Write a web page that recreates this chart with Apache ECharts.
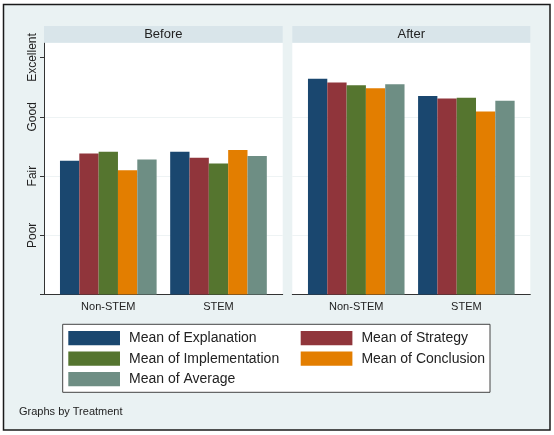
<!DOCTYPE html>
<html>
<head>
<meta charset="utf-8">
<script src="https://cdn.jsdelivr.net/npm/echarts@6/dist/echarts.min.js"></script>
<style>
html,body{margin:0;padding:0;background:#fff;}
#chart{width:554px;height:435px;}
</style>
</head>
<body>
<div id="chart"></div>
<script>
// ---- data ----
const panels = ['Before', 'After'];
const categories = ['Non-STEM', 'STEM'];
const seriesNames = ['Mean of Explanation', 'Mean of Strategy', 'Mean of Implementation', 'Mean of Conclusion', 'Mean of Average'];
const yTickLabels = ['', 'Poor', 'Fair', 'Good', 'Excellent'];
const explanationBefore = [2.26, 2.41];
const strategyBefore = [2.38, 2.31];
const implementationBefore = [2.41, 2.21];
const conclusionBefore = [2.10, 2.44];
const averageBefore = [2.28, 2.34];
const explanationAfter = [3.64, 3.35];
const strategyAfter = [3.58, 3.31];
const implementationAfter = [3.53, 3.32];
const conclusionAfter = [3.48, 3.09];
const averageAfter = [3.55, 3.27];
const footnote = 'Graphs by Treatment';

// ---- style ----
const colors = ['#1a476f', '#90353b', '#55752f', '#e37e00', '#6e8e84'];
const FONT = '"Liberation Sans", Arial, sans-serif';
const BG = '#eaf2f3';
const STRIP = '#d9e5ea';
const AXIS = '#333';
const TXT = '#222';
const YMAX = 4.25;
const TOP = 42.7, BOTTOM = 140.4;

const beforeData = [explanationBefore, strategyBefore, implementationBefore, conclusionBefore, averageBefore];
const afterData = [explanationAfter, strategyAfter, implementationAfter, conclusionAfter, averageAfter];

const panelBg = [{left: 44, width: 238.7}, {left: 292.3, width: 238}];
const barGrid = [{left: 53.2, width: 220.4}, {left: 301.2, width: 220.2}];

const grids = [];
const xAxes = [];
const yAxes = [];
panelBg.forEach((p, i) => {
  grids.push({left: p.left, width: p.width, top: TOP, bottom: BOTTOM, show: true, backgroundColor: '#fff', borderWidth: 0});
  xAxes.push({type: 'category', gridIndex: i, data: [''], axisLine: {show: true, lineStyle: {color: AXIS, width: 1}}, axisTick: {show: false}, axisLabel: {show: false}});
  yAxes.push({
    type: 'value', gridIndex: i, min: 0, max: YMAX, interval: 1,
    axisLine: {show: i === 0, lineStyle: {color: AXIS, width: 1}},
    axisTick: {show: i === 0, length: 4, lineStyle: {color: AXIS}, customValues: [0, 1, 2, 3, 4]},
    axisLabel: {
      show: i === 0, rotate: 90, margin: 5.5, fontSize: 12, color: TXT, fontFamily: FONT,
      customValues: [1, 2, 3, 4],
      formatter: v => (Number.isInteger(v) ? (yTickLabels[v] || '') : '')
    },
    splitLine: {show: true, showMaxLine: false, lineStyle: {color: '#eef3f4', width: 1}}
  });
});
barGrid.forEach((g, i) => {
  grids.push({left: g.left, width: g.width, top: TOP, bottom: BOTTOM});
  xAxes.push({type: 'category', gridIndex: 2 + i, data: categories, axisLine: {show: false}, axisTick: {show: false},
    axisLabel: {margin: 7, fontSize: 11, color: TXT, fontFamily: FONT}});
  yAxes.push({type: 'value', gridIndex: 2 + i, min: 0, max: YMAX, interval: 1, show: false, splitLine: {show: false}});
});

const series = [];
[beforeData, afterData].forEach((set, pi) => {
  set.forEach((vals, si) => {
    series.push({
      name: seriesNames[si], type: 'bar', xAxisIndex: 2 + pi, yAxisIndex: 2 + pi,
      data: vals, barGap: '0%', barCategoryGap: '12.3%',
      itemStyle: {color: colors[si]}, emphasis: {disabled: true}
    });
  });
});

const legendCommon = {
  orient: 'vertical', padding: 0, itemGap: 6.2, itemWidth: 51.7, itemHeight: 14.3, icon: 'rect',
  selectedMode: false, textStyle: {fontSize: 14, color: TXT, fontFamily: FONT, padding: [0, 0, 0, 4]}
};

const chart = echarts.init(document.getElementById('chart'), null, {renderer: 'canvas'});
chart.setOption({
  backgroundColor: '#fff',
  animation: false,
  color: colors,
  grid: grids,
  xAxis: xAxes,
  yAxis: yAxes,
  series: series,
  legend: [
    Object.assign({}, legendCommon, {left: 68.3, top: 331, data: [seriesNames[0], seriesNames[2], seriesNames[4]]}),
    Object.assign({}, legendCommon, {left: 300.7, top: 331, data: [seriesNames[1], seriesNames[3]]})
  ],
  graphic: [
    {type: 'rect', z: -10, shape: {x: 3.5, y: 4.5, width: 546.5, height: 425.5}, style: {fill: BG, stroke: '#1a1a1a', lineWidth: 1.5}},
    {type: 'rect', z: 1, shape: {x: panelBg[0].left, y: 26, width: panelBg[0].width, height: TOP - 26}, style: {fill: STRIP}},
    {type: 'rect', z: 1, shape: {x: panelBg[1].left, y: 26, width: panelBg[1].width, height: TOP - 26}, style: {fill: STRIP}},
    {type: 'text', z: 2, style: {text: panels[0], x: panelBg[0].left + panelBg[0].width / 2, y: 34.6, align: 'center', verticalAlign: 'middle', fontSize: 13, fill: TXT, fontFamily: FONT}},
    {type: 'text', z: 2, style: {text: panels[1], x: panelBg[1].left + panelBg[1].width / 2, y: 34.6, align: 'center', verticalAlign: 'middle', fontSize: 13, fill: TXT, fontFamily: FONT}},
    {type: 'rect', z: 1, shape: {x: 62.7, y: 324.3, width: 427.3, height: 68}, style: {fill: '#fff', stroke: '#444', lineWidth: 1}},
    {type: 'text', z: 2, style: {text: footnote, x: 19, y: 411.7, verticalAlign: 'middle', fontSize: 11, fill: TXT, fontFamily: FONT}}
  ]
});
</script>
</body>
</html>
